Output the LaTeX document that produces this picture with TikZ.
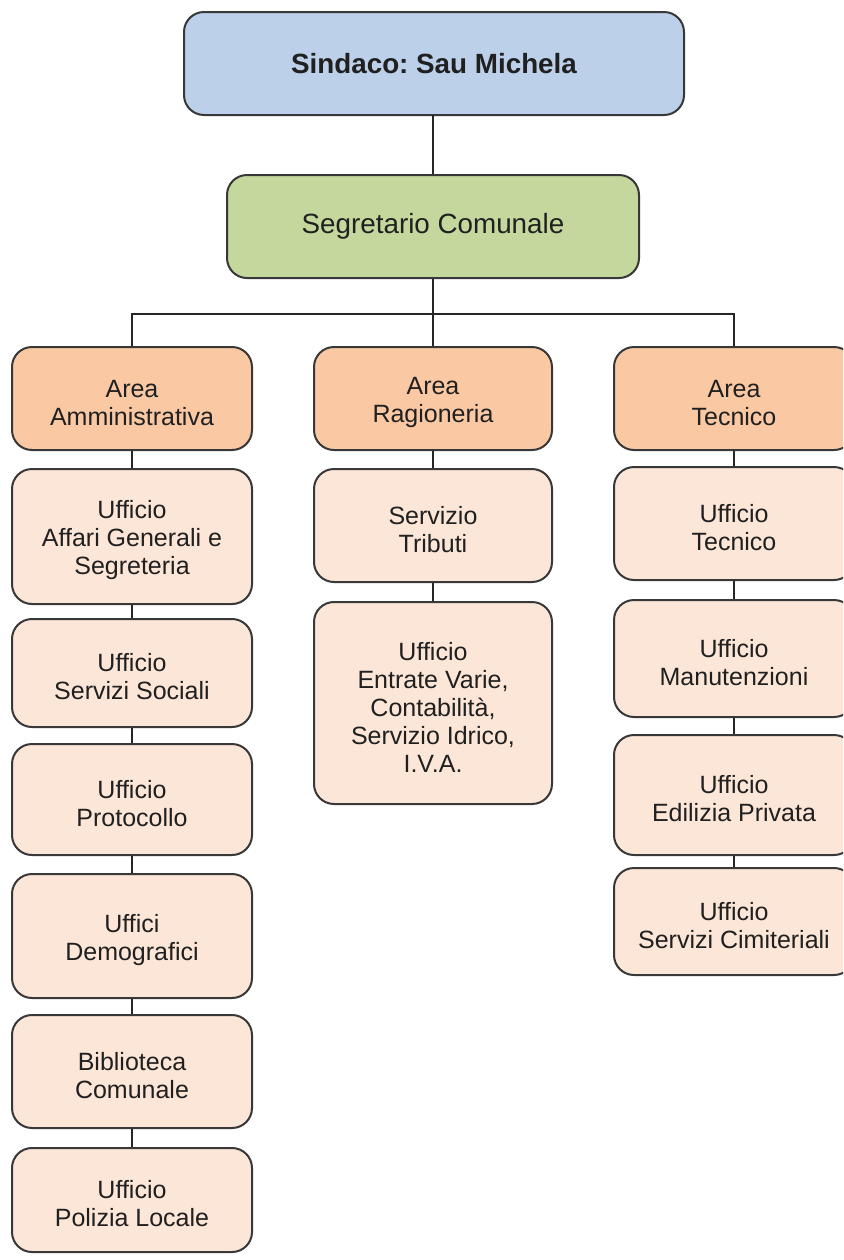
\documentclass[tikz,border=0pt]{standalone}
\usepackage{fontspec}
\setmainfont{Liberation Sans}
\frenchspacing
\definecolor{sindblue}{HTML}{BCD0E9}
\definecolor{seggreen}{HTML}{C4D89E}
\definecolor{areaor}{HTML}{FAC9A4}
\definecolor{offpink}{HTML}{FCE6D8}
\definecolor{edge}{HTML}{383838}
\definecolor{txt}{HTML}{202020}
\newcommand{\lowr}{\rule{0pt}{13pt}}
\begin{document}
\begin{tikzpicture}[x=0.5pt,y=-0.5pt,
  box/.style={draw=edge, line width=1pt, rounded corners=10pt, align=center,
    text=txt, inner sep=0pt, font=\fontsize{12.5}{14}\selectfont},
  topbox/.style={box, fill=sindblue, font=\fontsize{13.9}{16}\selectfont\bfseries},
  segbox/.style={box, fill=seggreen, font=\fontsize{13.9}{16}\selectfont},
  areabox/.style={box, fill=areaor},
  offbox/.style={box, fill=offpink},
  conn/.style={draw=black!85, line width=0.8pt}]
\clip (0,0) rectangle (843,1260);
\fill[white] (0,0) rectangle (843,1260);

\node[topbox, minimum width=250pt, minimum height=51.5pt] (sind) at (434,63.5) {\frenchspacing Sindaco: Sau Michela};
\node[segbox, minimum width=206pt, minimum height=51.5pt] (seg) at (433,226.5) {Segretario Comunale};

\node[areabox, minimum width=120pt, minimum height=51.5pt] (aa) at (132,398.5) {\lowr Area\\Amministrativa};
\node[areabox, minimum width=119pt, minimum height=51.5pt] (ar) at (433,398.5) {\lowr Area\\Ragioneria};
\node[areabox, minimum width=120pt, minimum height=51.5pt] (at) at (734,398.5) {\lowr Area\\Tecnico};

% left column
\node[offbox, minimum width=120pt, minimum height=67.5pt] (l1) at (132,536.5) {\lowr Ufficio\\Affari Generali e\\Segreteria};
\node[offbox, minimum width=120pt, minimum height=54pt] (l2) at (132,673) {\lowr Ufficio\\Servizi Sociali};
\node[offbox, minimum width=120pt, minimum height=55.5pt] (l3) at (132,799.5) {\lowr Ufficio\\Protocollo};
\node[offbox, minimum width=120pt, minimum height=62pt] (l4) at (132,936) {\lowr Uffici\\Demografici};
\node[offbox, minimum width=120pt, minimum height=56.5pt] (l5) at (132,1071.5) {\lowr Biblioteca\\Comunale};
\node[offbox, minimum width=120pt, minimum height=52pt] (l6) at (132,1200) {\lowr Ufficio\\Polizia Locale};

% middle column
\node[offbox, minimum width=119pt, minimum height=56.5pt] (m1) at (433,525.5) {\lowr Servizio\\Tributi};
\node[offbox, minimum width=119pt, minimum height=101pt] (m2) at (433,703) {\lowr Ufficio\\Entrate Varie,\\Contabilità,\\Servizio Idrico,\\I.V.A.};

% right column
\node[offbox, minimum width=120pt, minimum height=56.5pt] (r1) at (734,523.5) {\lowr Ufficio\\Tecnico};
\node[offbox, minimum width=120pt, minimum height=58.5pt] (r2) at (734,658.5) {\lowr Ufficio\\Manutenzioni};
\node[offbox, minimum width=120pt, minimum height=60pt] (r3) at (734,795) {\lowr Ufficio\\Edilizia Privata};
\node[offbox, minimum width=120pt, minimum height=53.5pt] (r4) at (734,921.5) {\lowr Ufficio\\Servizi Cimiteriali};

\coordinate (bus) at (433,314);

\draw[conn] (sind.south) -- (seg.south |- sind.south) -- (seg.north);
\draw[conn] (seg.south) -- (ar.north);
\draw[conn] (aa.north) |- (bus) -| (at.north);

\draw[conn] (aa.south) -- (l1.north);
\draw[conn] (l1.south) -- (l2.north);
\draw[conn] (l2.south) -- (l3.north);
\draw[conn] (l3.south) -- (l4.north);
\draw[conn] (l4.south) -- (l5.north);
\draw[conn] (l5.south) -- (l6.north);

\draw[conn] (ar.south) -- (m1.north);
\draw[conn] (m1.south) -- (m2.north);

\draw[conn] (at.south) -- (r1.north);
\draw[conn] (r1.south) -- (r2.north);
\draw[conn] (r2.south) -- (r3.north);
\draw[conn] (r3.south) -- (r4.north);
\end{tikzpicture}
\end{document}
